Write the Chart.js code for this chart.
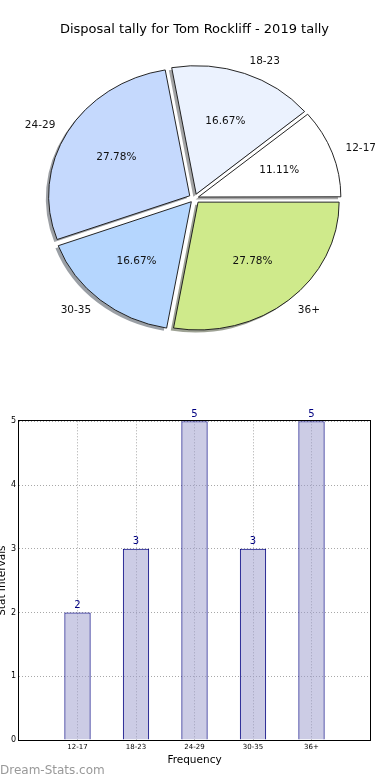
<!DOCTYPE html>
<html>
<head>
<meta charset="utf-8">
<script src="https://cdn.jsdelivr.net/npm/chart.js@4.4.1/dist/chart.umd.min.js"></script>
<style>
  body { margin: 0; width: 390px; height: 780px; position: relative; background: #fff; overflow: hidden; }
  canvas { position: absolute; left: 0; }
  #pie-chart { top: 0; }
  #bar-chart { top: 360px; }
  .watermark { position: absolute; left: 0; top: 763px; font: 12px "DejaVu Sans"; line-height: 14px; color: #999; }
</style>
</head>
<body>
<canvas id="pie-chart" width="390" height="349"></canvas>
<canvas id="bar-chart" width="390" height="420"></canvas>
<div class="watermark">Dream-Stats.com</div>
<script>
// data
const categories = ['12-17', '18-23', '24-29', '30-35', '36+'];
const counts = [2, 3, 5, 3, 5];
const sliceColors = ['#ffffff', '#ebf2fe', '#c5d9fd', '#b5d6fe', '#cfea8b'];
const yTicks = [0, 1, 2, 3, 4, 5];

const FONT = 'DejaVu Sans';
const squash = 0.906;     // pie is drawn as an ellipse (matplotlib non-equal axes)
const explodePx = 5.6;
const pieRadius = 141;

// matplotlib goes counter-clockwise from 3 o'clock, Chart.js clockwise -> reverse
const pieLabels = categories.slice().reverse();
const pieValues = counts.slice().reverse();
const pieColors = sliceColors.slice().reverse();
const total = counts.reduce((a, b) => a + b, 0);

function shadowOf(hex) {
    const n = parseInt(hex.slice(1), 16);
    const r = (n >> 16) & 255, g = (n >> 8) & 255, b = n & 255;
    return 'rgba(' + Math.round(r * 0.3) + ',' + Math.round(g * 0.3) + ',' + Math.round(b * 0.3) + ',0.5)';
}

// Chart.js scales the offset by the arc size, undo that so every slice moves the same
function explodeOffset(ctx) {
    const circ = ctx.raw / total * 2 * Math.PI;
    const fix = 1 - Math.sin(Math.min(Math.PI, circ));
    return 4 * explodePx / (1 + fix);
}

const pieDecor = {
    id: 'pieDecor',
    beforeDatasetsDraw(chart) {
        const ctx = chart.ctx;
        const arcs = chart.getDatasetMeta(0).data;
        const cx = arcs[0].x, cy = arcs[0].y;
        ctx.save();
        ctx.translate(cx, cy);
        ctx.scale(1, squash);
        ctx.translate(-cx, -cy);
        // shadows
        ctx.save();
        ctx.translate(-0.02 * pieRadius, 0.02 * pieRadius);
        arcs.forEach((arc, i) => {
            const opts = arc.options;
            arc.options = Object.assign({}, opts, { backgroundColor: shadowOf(pieColors[i]), borderWidth: 0 });
            arc.draw(ctx);
            arc.options = opts;
        });
        ctx.restore();
    },
    afterDatasetsDraw(chart) {
        const ctx = chart.ctx;
        ctx.restore();
        const arcs = chart.getDatasetMeta(0).data;
        ctx.save();
        ctx.fillStyle = '#111';
        ctx.font = '10.5px "' + FONT + '"';
        ctx.textBaseline = 'middle';
        arcs.forEach((arc, i) => {
            const mid = (arc.startAngle + arc.endAngle) / 2;
            const cos = Math.cos(mid), sin = Math.sin(mid);
            const r = arc.outerRadius;
            // category label
            let d = explodePx + r * 1.1;
            ctx.textAlign = cos > 0 ? 'left' : 'right';
            ctx.fillText(pieLabels[i], arc.x + d * cos, arc.y + d * sin * squash);
            // percentage
            d = explodePx + r * 0.6;
            ctx.textAlign = 'center';
            ctx.fillText((pieValues[i] / total * 100).toFixed(2) + '%', arc.x + d * cos, arc.y + d * sin * squash);
        });
        ctx.restore();
    }
};

new Chart(document.getElementById('pie-chart'), {
    type: 'pie',
    data: {
        labels: pieLabels,
        datasets: [{
            data: pieValues,
            backgroundColor: pieColors,
            borderColor: '#1a1a1a',
            borderWidth: 1,
            offset: explodeOffset,
            clip: false
        }]
    },
    options: {
        responsive: false,
        animation: false,
        rotation: 90,
        radius: pieRadius,
        layout: { padding: { left: 0, right: 1, top: 0, bottom: 0 } },
        plugins: {
            legend: { display: false },
            tooltip: { enabled: false },
            title: {
                display: true,
                text: 'Disposal tally for Tom Rockliff - 2019 tally',
                color: '#000',
                padding: { top: 22, bottom: 10 },
                font: { family: FONT, size: 13, weight: 'normal', lineHeight: 1.2 }
            }
        }
    },
    plugins: [pieDecor]
});

// Bar chart
const frame = {
    id: 'frame',
    afterDraw(chart) {
        const a = chart.chartArea, ctx = chart.ctx;
        ctx.save();
        ctx.strokeStyle = '#000';
        ctx.lineWidth = 1;
        ctx.strokeRect(Math.round(a.left) - 0.5, Math.round(a.top) - 0.5, Math.round(a.right - a.left) + 1, Math.round(a.bottom - a.top) + 1);
        ctx.restore();
    }
};

const valueLabels = {
    id: 'valueLabels',
    afterDatasetsDraw(chart) {
        const ctx = chart.ctx;
        ctx.save();
        ctx.fillStyle = '#000080';
        ctx.font = '10px "' + FONT + '"';
        ctx.textAlign = 'center';
        ctx.textBaseline = 'bottom';
        chart.getDatasetMeta(0).data.forEach((bar, i) => {
            ctx.fillText(counts[i], bar.x, bar.y - 2);
        });
        ctx.restore();
    }
};

const gridStyle = (ctx) => (ctx.tick && (ctx.tick.value < 0 || ctx.tick.value >= categories.length)) ? 'rgba(0,0,0,0)' : '#a8a8a8';

new Chart(document.getElementById('bar-chart'), {
    type: 'bar',
    data: {
        datasets: [{
            data: counts.map((v, i) => ({ x: i, y: v })),
            backgroundColor: 'rgba(153,153,204,0.5)',
            borderColor: '#000080',
            borderWidth: 1,
            barPercentage: 0.45,
            categoryPercentage: 1
        }]
    },
    options: {
        responsive: false,
        animation: false,
        layout: { padding: { left: 0, right: 20, top: 61.3, bottom: 0 } },
        plugins: {
            legend: { display: false },
            tooltip: { enabled: false }
        },
        scales: {
            x: {
                type: 'linear',
                offset: false,
                min: -1,
                max: categories.length,
                grid: {
                    offset: false,
                    drawTicks: false,
                    color: gridStyle,
                    lineWidth: 1
                },
                border: { display: false, dash: [1, 2] },
                ticks: {
                    stepSize: 1,
                    autoSkip: false,
                    maxRotation: 0,
                    padding: 3,
                    color: '#000',
                    font: { family: FONT, size: 7 },
                    callback: (v) => categories[v] !== undefined ? categories[v] : ''
                },
                title: {
                    display: true,
                    text: 'Frequency',
                    color: '#000',
                    padding: { top: 0, bottom: 13.7 },
                    font: { family: FONT, size: 10.5, lineHeight: 1.2 }
                },
                afterFit(scale) { scale.height = 40; }
            },
            y: {
                min: yTicks[0],
                max: yTicks[yTicks.length - 1],
                grid: {
                    drawTicks: false,
                    color: '#a8a8a8',
                    lineWidth: 1
                },
                border: { display: false, dash: [1, 2] },
                ticks: {
                    stepSize: 1,
                    padding: 3,
                    color: '#000',
                    font: { family: FONT, size: 8 }
                },
                title: {
                    display: true,
                    text: 'Stat Intervals',
                    color: '#000',
                    padding: { top: -4, bottom: 0 },
                    font: { family: FONT, size: 10.5, lineHeight: 1.2 }
                },
                afterFit(scale) { scale.width = 19; }
            }
        }
    },
    plugins: [frame, valueLabels]
});
</script>
</body>
</html>
